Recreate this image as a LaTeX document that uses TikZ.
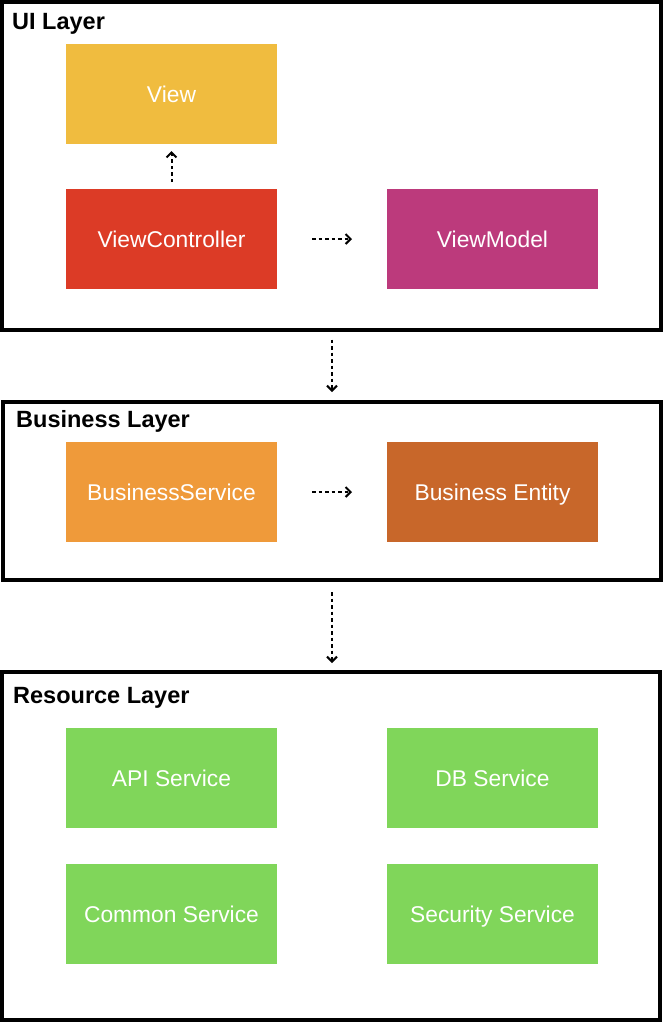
\documentclass[tikz,border=0pt]{standalone}
\usepackage{fontspec}
\setmainfont{Liberation Sans}
\usetikzlibrary{arrows.meta}
\definecolor{cview}{HTML}{F0BC3F}
\definecolor{cvc}{HTML}{DC3B26}
\definecolor{cvm}{HTML}{BC3A7C}
\definecolor{cbs}{HTML}{EF9A3A}
\definecolor{cbe}{HTML}{C8672A}
\definecolor{cres}{HTML}{80D65A}
\tikzset{
  comp/.style={rectangle, minimum width=211pt, minimum height=100pt, inner sep=0pt, outer sep=0pt,
    text=white, text height=16.4pt, text depth=0pt, font=\fontsize{22.8}{27}\selectfont},
  layer/.style={draw=black, line width=4pt, rectangle, inner sep=0pt, outer sep=0pt},
  title/.style={anchor=base west, inner sep=0pt, font=\fontsize{23.5}{28}\selectfont\bfseries},
  dep/.style={dashed, dash pattern=on 3.5pt off 3pt, line width=2pt,
    -{Straight Barb[length=5pt,width=10pt,line width=2pt]}}
}
\begin{document}
\begin{tikzpicture}[x=1pt,y=-1pt]
\useasboundingbox (0,0) rectangle (664,1023);
% layers
\node[layer, minimum width=659pt, minimum height=327.5pt] (ui) at (331.5,165.75) {};
\node[layer, minimum width=658pt, minimum height=178pt] (bl) at (332,491) {};
\node[layer, minimum width=658pt, minimum height=348pt] (rl) at (331,846) {};
\node[title] (tui) at (12,29) {UI Layer};
\node[title] (tbl) at (16,427) {Business Layer};
\node[title] (trl) at (13,703) {Resource Layer};
% components
\node[comp, fill=cview] (view) at (171.5,94) {View};
\node[comp, fill=cvc] (vc) at (171.5,239) {ViewController};
\node[comp, fill=cvm] (vm) at (492.5,239) {ViewModel};
\node[comp, fill=cbs] (bs) at (171.5,492) {BusinessService};
\node[comp, fill=cbe] (be) at (492.5,492) {Business Entity};
\node[comp, fill=cres] (api) at (171.5,778) {API Service};
\node[comp, fill=cres] (db) at (492.5,778) {DB Service};
\node[comp, fill=cres] (common) at (171.5,914) {Common Service};
\node[comp, fill=cres] (sec) at (492.5,914) {Security Service};
% connectors
\draw[dep, shorten <=7pt, shorten >=7pt] (vc) -- (view);
\draw[dep, shorten <=35pt, shorten >=35pt] (vc) -- (vm);
\draw[dep, shorten <=35pt, shorten >=35pt] (bs) -- (be);
\draw[dep, shorten <=10pt, shorten >=10pt] (ui.south -| 332,0) -- (bl.north -| 332,0);
\draw[dep, shorten <=12pt, shorten >=9pt] (bl.south -| 332,0) -- (rl.north -| 332,0);
\end{tikzpicture}
\end{document}
